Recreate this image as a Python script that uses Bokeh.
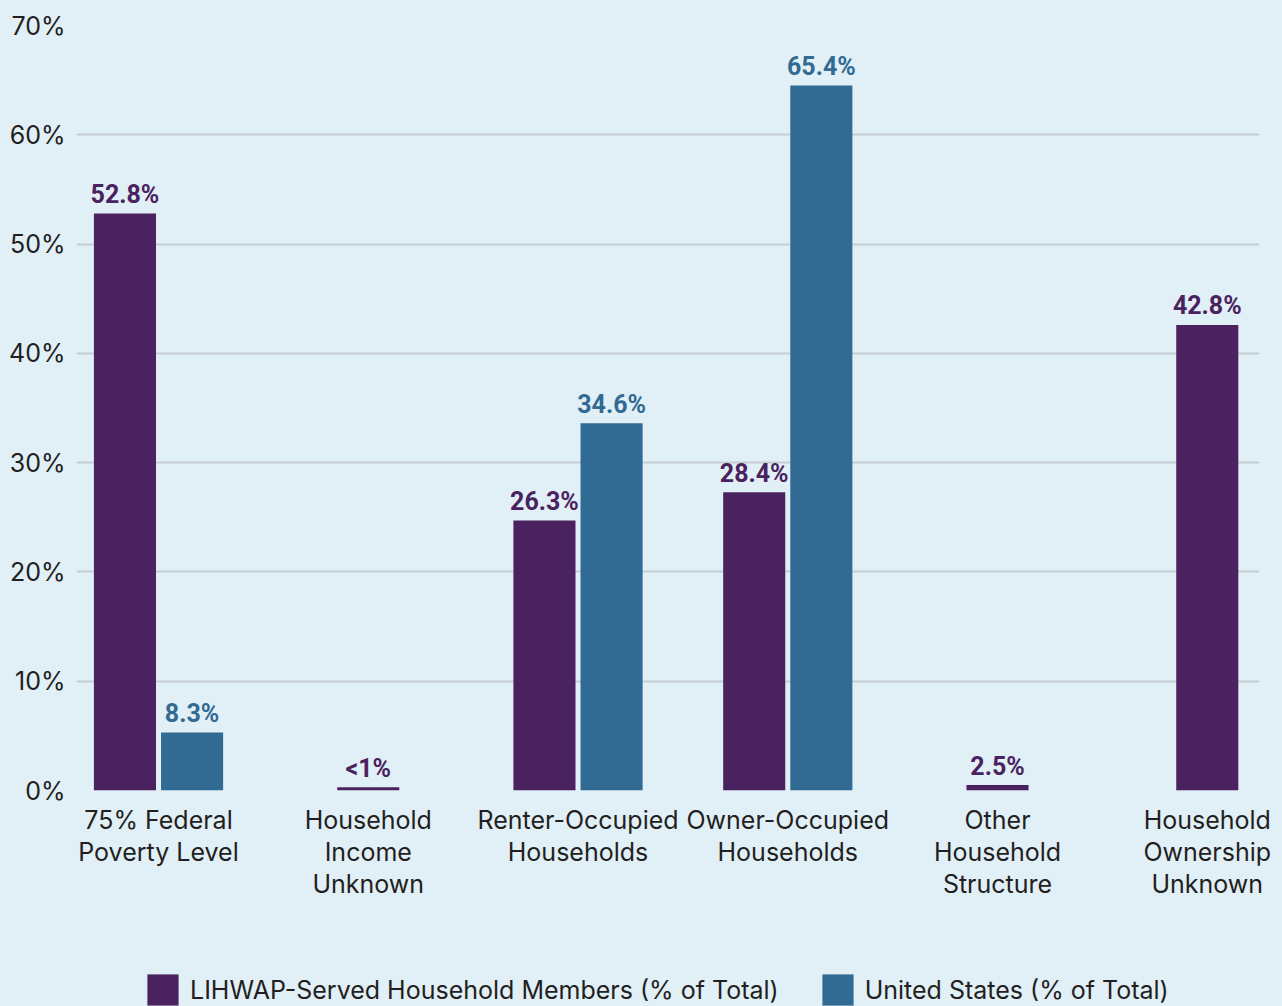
from bokeh.plotting import figure
from bokeh.layouts import column
from bokeh.models import ColumnDataSource, FixedTicker, Legend, LegendItem, Range1d
from bokeh.core.properties import value
from bokeh.embed import file_html
from bokeh.resources import INLINE

# ---- data ----
categories = [
    "75% Federal\nPoverty Level",
    "Household\nIncome\nUnknown",
    "Renter-Occupied\nHouseholds",
    "Owner-Occupied\nHouseholds",
    "Other\nHousehold\nStructure",
    "Household\nOwnership\nUnknown",
]
lihwap_values = [52.8, 0.3, 24.7, 27.3, 0.5, 42.6]
lihwap_labels = ["52.8%", "<1%", "26.3%", "28.4%", "2.5%", "42.8%"]
us_values = [5.3, None, 33.6, 64.5, None, None]
us_labels = ["8.3%", "", "34.6%", "65.4%", "", ""]
y_ticks = [0, 10, 20, 30, 40, 50, 60, 70]
series_names = ["LIHWAP-Served Household Members (% of Total)", "United States (% of Total)"]

# ---- style ----
BG = "#e1eff7"
PURPLE = "#4a2260"
BLUE = "#316a92"
TEXT = "#231f20"
GRID = "#c7cdd4"
FONT = "Inter"
BAR_W = 0.296
OFF = 0.16

# positions derived from category index (dodged only where both series exist)
lx, ly, ll = [], [], []
ux, uy, ul = [], [], []
for i, (lv, lab, uv, ulab) in enumerate(zip(lihwap_values, lihwap_labels, us_values, us_labels)):
    has_us = uv is not None
    lx.append(i - OFF if has_us else i)
    ly.append(lv)
    ll.append(lab)
    if has_us:
        ux.append(i + OFF)
        uy.append(uv)
        ul.append(ulab)

src_l = ColumnDataSource(dict(x=lx, top=ly, label=ll))
src_u = ColumnDataSource(dict(x=ux, top=uy, label=ul))

p = figure(
    width=1282, height=950,
    x_range=Range1d(-0.391, 5.249), y_range=Range1d(0, 70),
    output_backend="svg", toolbar_location=None,
    min_border_left=76, min_border_right=23, min_border_top=25, min_border_bottom=160,
)
p.background_fill_color = BG
p.border_fill_color = BG
p.outline_line_color = None

r_l = p.vbar(x="x", top="top", width=BAR_W, source=src_l, fill_color=PURPLE, line_color=None)
r_u = p.vbar(x="x", top="top", width=BAR_W, source=src_u, fill_color=BLUE, line_color=None)

for src, col in ((src_l, PURPLE), (src_u, BLUE)):
    p.text(x="x", y="top", text="label", source=src,
           text_font=value("Roboto"), text_font_style="bold",
           text_font_size="25px", text_color=col, text_align="center",
           text_baseline="alphabetic", y_offset=-19)

# axes
p.xaxis.ticker = FixedTicker(ticks=list(range(len(categories))))
p.xaxis.major_label_overrides = {i: c for i, c in enumerate(categories)}
p.yaxis.ticker = FixedTicker(ticks=y_ticks)
p.yaxis.major_label_overrides = {t: f"{t}%" for t in y_ticks}
for ax in (p.xaxis[0], p.yaxis[0]):
    ax.axis_line_color = None
    ax.major_tick_line_color = None
    ax.minor_tick_line_color = None
    ax.major_tick_out = 0
    ax.major_tick_in = 0
    ax.minor_tick_out = 0
    ax.major_label_text_font = FONT
    ax.major_label_text_font_size = "25px"
    ax.major_label_text_color = TEXT
p.xaxis.major_label_standoff = 14
p.xaxis.major_label_text_line_height = 1.07
p.yaxis.major_label_standoff = 11

p.xgrid.grid_line_color = None
p.ygrid.ticker = FixedTicker(ticks=y_ticks)
p.ygrid.grid_line_color = GRID
p.ygrid.grid_line_width = 2

# legend strip underneath
p2 = figure(
    width=1282, height=56, x_range=Range1d(0, 1), y_range=Range1d(0, 1),
    output_backend="svg", toolbar_location=None,
    x_axis_location=None, y_axis_location=None,
    min_border_left=76, min_border_right=23, min_border_top=0, min_border_bottom=0,
)
p2.background_fill_color = BG
p2.border_fill_color = BG
p2.outline_line_color = None
p2.grid.grid_line_color = None
# zero-height swatch renderers, used only for the legend keys
k_l = p2.vbar(x=[0.5], top=[0], bottom=[0], width=0.01, fill_color=PURPLE, line_color=None)
k_u = p2.vbar(x=[0.5], top=[0], bottom=[0], width=0.01, fill_color=BLUE, line_color=None)

legend = Legend(
    items=[LegendItem(label=series_names[0], renderers=[k_l]),
           LegendItem(label=series_names[1], renderers=[k_u])],
    orientation="horizontal", location=(67, -3),
    glyph_width=39, glyph_height=39, label_standoff=8, spacing=39,
    label_text_font=FONT, label_text_font_size="25px", label_text_color=TEXT,
    label_height=39, background_fill_alpha=0, border_line_color=None, padding=0, margin=0,
)
p2.add_layout(legend, "center")

layout = column(p, p2, spacing=0, styles={"background-color": BG})
open("out.html", "w").write(file_html(layout, INLINE))
